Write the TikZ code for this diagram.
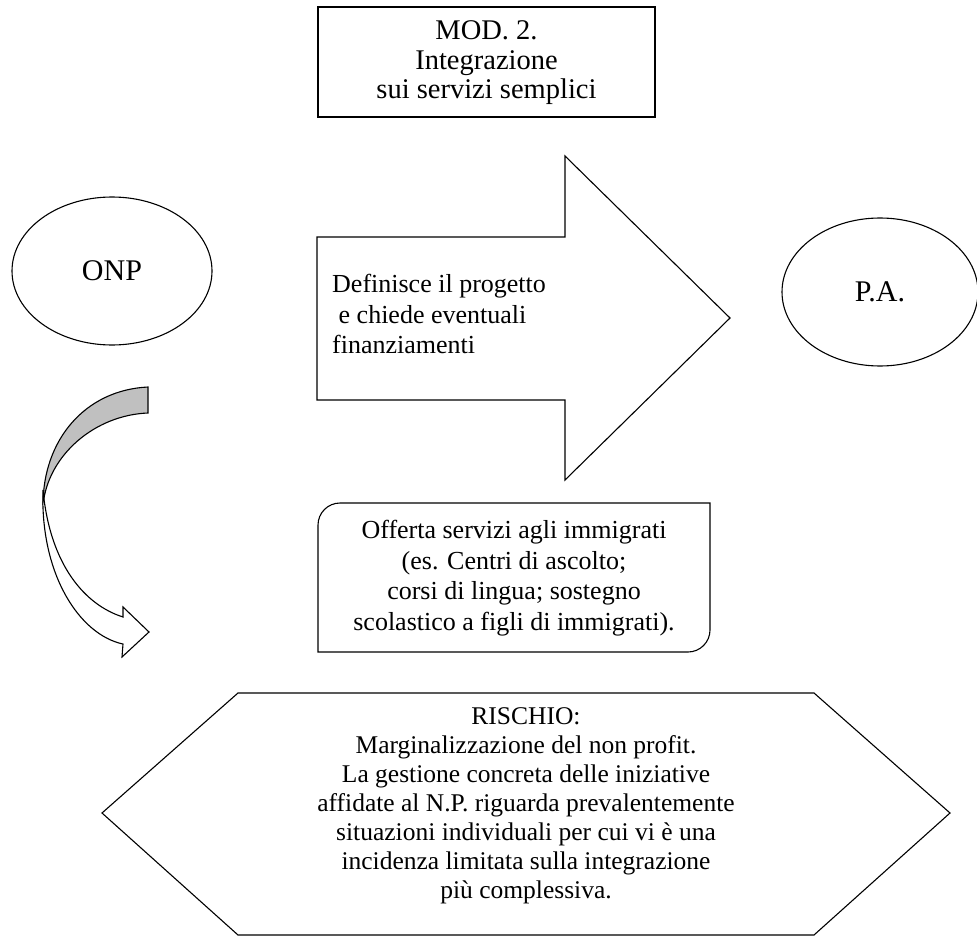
\documentclass[tikz,border=0pt]{standalone}
\usepackage{fontspec}
\setmainfont{Liberation Serif}
\usetikzlibrary{shapes.geometric}
\definecolor{backfold}{RGB}{192,192,192}
\tikzset{outline/.style={draw=black,line width=1.1pt,line join=miter},
 oval/.style={outline,ellipse,inner sep=0pt,font=\fontsize{30}{34}\selectfont},
 boxtext/.style={align=center,inner sep=0pt,font=\fontsize{26}{30.5}\selectfont}}
\begin{document}
\begin{tikzpicture}[x=1pt,y=-1pt]
\useasboundingbox (0,0) rectangle (977,936);
\draw[outline,line width=1.6pt] (318,7) rectangle (655,117);
\node[boxtext,font=\fontsize{28.5}{29.5}\selectfont] (mod) at (486.5,63) {MOD. 2.\\Integrazione\\sui servizi semplici};
\node[oval,minimum width=200,minimum height=148] (onp) at (112,271) {ONP};
\node[oval,minimum width=196,minimum height=148] (pa) at (880,292) {P.A.};
\draw[outline] (317,237) -- (565,237) -- (565,156) -- (730,318) -- (565,480) -- (565,400) -- (317,400) -- cycle;
\node[boxtext,align=left,anchor=west] (proj) at (332,314) {Definisce il progetto\\\ e chiede eventuali\\finanziamenti};
\draw[outline,fill=backfold] (148,387) .. controls (85,390) and (43,440) .. (43,505) .. controls (48,455) and (95,415) .. (148,413) -- cycle;
\draw[outline,fill=white] (43,490) .. controls (40,575) and (80,635) .. (123,644) -- (122,657) -- (149,632) -- (123,607) -- (123,617) .. controls (85,605) and (50,565) .. (43,490) -- cycle;
\draw[outline] (318,525) .. controls (318,512.9) and (327.9,503) .. (340,503) -- (710,503) -- (710,630) .. controls (710,642.1) and (700.1,652) .. (688,652) -- (318,652) -- cycle;
\node[boxtext] (offer) at (514,578) {Offerta servizi agli immigrati\\(es. Centri di ascolto;\\corsi di lingua; sostegno\\scolastico a figli di immigrati).};
\draw[outline] (102,813) -- (238,693) -- (814,693) -- (950,813) -- (814,935) -- (238,935) -- cycle;
\node[boxtext,font=\fontsize{25.5}{29}\selectfont] (risk) at (526,806) {RISCHIO:\\Marginalizzazione del non profit.\\La gestione concreta delle iniziative\\affidate al N.P. riguarda prevalentemente\\situazioni individuali per cui vi è una\\incidenza limitata sulla integrazione\\più complessiva.};
\end{tikzpicture}
\end{document}
